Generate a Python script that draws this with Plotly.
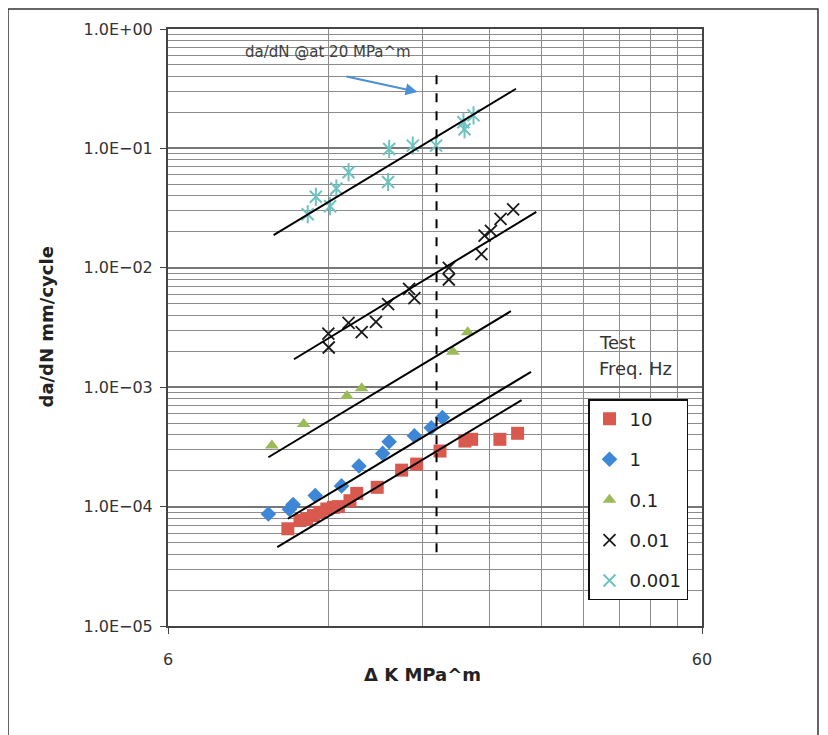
import math
import plotly.graph_objects as go

# ---------------- data ----------------
freq_names = ["10", "1", "0.1", "0.01", "0.001"]

dk_10 = [10.06, 10.60, 10.91, 11.23, 11.56, 11.90, 12.24, 12.51, 13.15, 13.54, 14.79,
         16.43, 17.53, 19.39, 21.59, 22.22, 25.10, 27.09]
rate_10 = [6.52e-5, 7.64e-5, 7.89e-5, 8.41e-5, 8.95e-5, 9.55e-5, 9.86e-5, 1.0e-4, 1.12e-4,
           1.29e-4, 1.45e-4, 2.02e-4, 2.27e-4, 2.92e-4, 3.54e-4, 3.66e-4, 3.66e-4, 4.11e-4]

dk_1 = [9.25, 10.13, 10.29, 11.32, 12.68, 13.67, 15.14, 15.57, 17.36, 18.67, 19.59]
rate_1 = [8.66e-5, 9.48e-5, 1.04e-4, 1.24e-4, 1.49e-4, 2.19e-4, 2.79e-4, 3.49e-4, 3.92e-4,
          4.57e-4, 5.57e-4]

dk_01 = [9.39, 10.77, 12.98, 13.83, 20.5, 21.85]
rate_01 = [3.25e-4, 4.91e-4, 8.43e-4, 9.82e-4, 1.98e-3, 2.89e-3]

dk_001 = [11.98, 12.0, 13.07, 13.83, 14.71, 15.5, 16.97, 17.36, 20.14, 20.14, 23.18, 23.5,
          24.15, 25.17, 26.58]
rate_001 = [2.81e-3, 2.15e-3, 3.46e-3, 2.89e-3, 3.52e-3, 4.96e-3, 6.67e-3, 5.57e-3, 1.0e-2,
            7.98e-3, 1.30e-2, 1.86e-2, 2.04e-2, 2.57e-2, 3.08e-2]

dk_0001 = [10.96, 11.35, 12.07, 12.40, 13.07, 15.57, 15.5, 17.24, 19.06, 21.45, 21.55, 22.4]
rate_0001 = [0.0281, 0.0393, 0.0328, 0.0461, 0.0632, 0.099, 0.0523, 0.1055, 0.1055, 0.1655,
             0.1446, 0.189]

# fitted trend lines (end points)
fit_x = {
    "10": [9.61, 27.56],
    "1": [10.06, 28.7],
    "0.1": [9.25, 26.32],
    "0.01": [10.33, 29.37],
    "0.001": [9.46, 26.9],
}
fit_y = {
    "10": [4.58e-5, 7.78e-4],
    "1": [7.91e-5, 1.345e-3],
    "0.1": [2.59e-4, 4.33e-3],
    "0.01": [1.715e-3, 2.94e-2],
    "0.001": [1.876e-2, 0.316],
}

ref_dk = [19.1, 19.1]
ref_rate = [0.41, 3.5e-5]

arrow_tail = (12.87, 0.402)
arrow_head = (17.6, 0.297)

x_ticks = [6, 60]
x_minor = [12, 18, 24, 30, 36, 42, 48, 54]
y_ticks = [1e-5, 1e-4, 1e-3, 1e-2, 1e-1, 1e0]
y_ticktext = ["1.0E\u221205", "1.0E\u221204", "1.0E\u221203", "1.0E\u221202", "1.0E\u221201", "1.0E+00"]
y_minor = [k * 10.0 ** n for n in range(-5, 0) for k in range(2, 10)]

FONT = "DejaVu Sans"

fig = go.Figure()

fig.add_trace(go.Scatter(x=dk_10, y=rate_10, mode="markers", name=freq_names[0],
                         legendgroup="g10",
                         marker=dict(symbol="square", size=13, color="#d9594f")))
fig.add_trace(go.Scatter(x=dk_1, y=rate_1, mode="markers", name=freq_names[1],
                         legendgroup="g1",
                         marker=dict(symbol="diamond", size=12, color="#3d87d6")))
fig.add_trace(go.Scatter(x=dk_01, y=rate_01, mode="markers", name=freq_names[2],
                         legendgroup="g01",
                         marker=dict(symbol="triangle-up", size=12, color="#9bbb59")))
fig.add_trace(go.Scatter(x=dk_001, y=rate_001, mode="markers", name=freq_names[3],
                         legendgroup="g001",
                         marker=dict(symbol="x-thin-open", size=12, color="#1a1a1a",
                                     line=dict(width=1.8, color="#1a1a1a"))))
fig.add_trace(go.Scatter(x=dk_0001, y=rate_0001, mode="markers", name=freq_names[4],
                         legendgroup="g0001",
                         marker=dict(symbol="x-thin-open", size=12, color="#6fc2c0",
                                     line=dict(width=2, color="#6fc2c0"))))
fig.add_trace(go.Scatter(x=dk_0001, y=rate_0001, mode="markers", name=freq_names[4],
                         legendgroup="g0001", showlegend=False,
                         marker=dict(symbol="line-ns-open", size=13, color="#6fc2c0",
                                     line=dict(width=2, color="#6fc2c0"))))

for key in freq_names:
    fig.add_trace(go.Scatter(x=fit_x[key], y=fit_y[key], mode="lines", showlegend=False,
                             line=dict(color="black", width=2), hoverinfo="skip"))

fig.add_trace(go.Scatter(x=ref_dk, y=ref_rate, mode="lines", showlegend=False,
                         line=dict(color="black", width=2, dash="dash"), hoverinfo="skip"))

fig.add_annotation(x=math.log10(arrow_head[0]), y=math.log10(arrow_head[1]),
                   ax=math.log10(arrow_tail[0]), ay=math.log10(arrow_tail[1]),
                   xref="x", yref="y", axref="x", ayref="y", text="",
                   showarrow=True, arrowhead=2, arrowsize=1.2, arrowwidth=2,
                   arrowcolor="#4a8fd8")

fig.add_annotation(x=(328 - 168) / 534, y=(626 - 49) / 600, xref="paper", yref="paper",
                   xanchor="center", yanchor="middle",
                   text="da/dN @at 20 MPa^m", showarrow=False,
                   font=dict(family=FONT, size=15, color="#404040"))

fig.add_annotation(x=(597 - 168) / 534, y=(626 - 341) / 600, xref="paper", yref="paper",
                   xanchor="left", yanchor="middle", text="Test", showarrow=False,
                   font=dict(family=FONT, size=18, color="#333333"))
fig.add_annotation(x=(597 - 168) / 534, y=(626 - 367) / 600, xref="paper", yref="paper",
                   xanchor="left", yanchor="middle", text="Freq. Hz", showarrow=False,
                   font=dict(family=FONT, size=18, color="#333333"))

# axis titles
fig.add_annotation(x=(422 - 168) / 534, y=(626 - 675) / 600, xref="paper", yref="paper",
                   xanchor="center", yanchor="middle", text="<b>\u0394 K MPa^m</b>",
                   showarrow=False, font=dict(family=FONT, size=18, color="#222222"))
fig.add_annotation(x=(46 - 168) / 534, y=(626 - 326) / 600, xref="paper", yref="paper",
                   xanchor="center", yanchor="middle", text="<b>da/dN mm/cycle</b>",
                   textangle=-90, showarrow=False,
                   font=dict(family=FONT, size=18, color="#222222"))

# outer frame
fig.add_shape(type="rect", xref="paper", yref="paper",
              x0=(8 - 168) / 534, x1=(818 - 168) / 534,
              y0=(626 - 745) / 600, y1=(626 - 6) / 600,
              line=dict(color="#333333", width=1.5), fillcolor="rgba(0,0,0,0)", layer="below")

fig.update_xaxes(type="log", range=[math.log10(6), math.log10(60)],
                 tickvals=x_ticks, ticktext=[str(v) for v in x_ticks],
                 ticks="outside", ticklen=6, tickcolor="#444444",
                 showgrid=False, zeroline=False,
                 showline=True, linecolor="#444444", linewidth=2, mirror=True,
                 ticklabelstandoff=12,
                 tickfont=dict(family=FONT, size=16, color="#333333"),
                 minor=dict(tickvals=x_minor, showgrid=True, gridcolor="#8c8c8c",
                            gridwidth=1.2, ticks=""))
fig.update_yaxes(type="log", range=[-5, 0],
                 tickvals=y_ticks, ticktext=y_ticktext,
                 ticks="outside", ticklen=6, tickcolor="#444444",
                 showgrid=True, gridcolor="#777777", gridwidth=2, zeroline=False,
                 showline=True, linecolor="#444444", linewidth=2, mirror=True,
                 ticklabelstandoff=4,
                 tickfont=dict(family=FONT, size=16, color="#333333"),
                 minor=dict(tickvals=y_minor, showgrid=True, gridcolor="#8c8c8c",
                            gridwidth=1.2, ticks=""))

# page body adds an 8px offset; margins compensate so the plot area sits at 168..702 x 26..626
fig.update_layout(
    width=828, height=735,
    margin=dict(l=160, r=134, t=18, b=117),
    paper_bgcolor="white", plot_bgcolor="white",
    font=dict(family=FONT),
    legend=dict(x=(588 - 168) / 534, y=(626 - 398) / 600, xanchor="left", yanchor="top",
                bgcolor="white", bordercolor="#111111", borderwidth=1.5,
                font=dict(family=FONT, size=18, color="#222222"),
                traceorder="grouped", tracegroupgap=14, itemwidth=30),
)

fig.write_html("out.html")
